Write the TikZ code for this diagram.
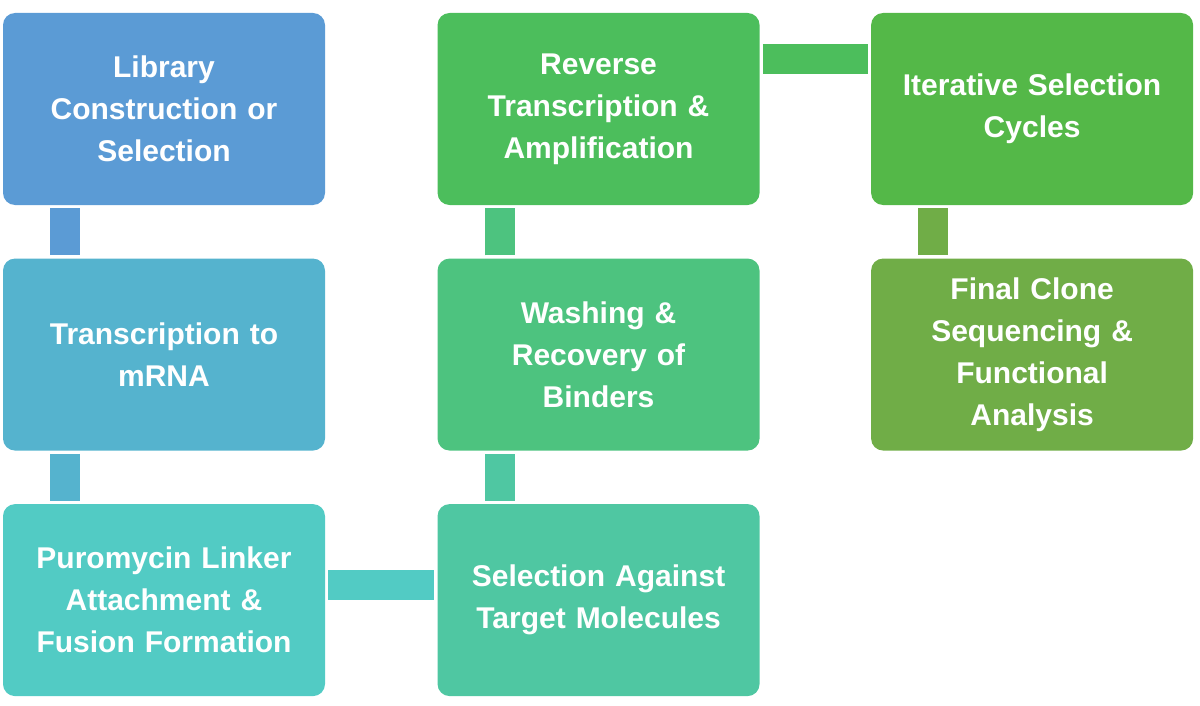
\documentclass[tikz,border=0pt]{standalone}
\usepackage{fontspec}
\setmainfont{Liberation Sans}
\usetikzlibrary{positioning}
\definecolor{cA}{RGB}{91,155,213}
\definecolor{cB}{RGB}{85,179,206}
\definecolor{cC}{RGB}{82,203,196}
\definecolor{cD}{RGB}{79,199,162}
\definecolor{cE}{RGB}{77,195,127}
\definecolor{cF}{RGB}{76,190,92}
\definecolor{cG}{RGB}{84,184,72}
\definecolor{cH}{RGB}{112,173,71}
\tikzset{every picture/.style={line width=0.55pt}}
\tikzset{stage/.style={rounded corners=12pt, minimum width=322pt, minimum height=192pt, text width=300pt, align=center, text=white, font=\fontsize{30}{42}\selectfont\bfseries, inner sep=0pt},
         link/.style={line width=30pt}}
\begin{document}
\begin{tikzpicture}[x=1pt,y=1pt,yscale=-1,xscale=1]
            \useasboundingbox (0,0) rectangle (1200,706);
            % Boxes
            \node [stage, fill=cA] (lib) at (164,109) {Library\\Construction or\\Selection};
            \node [stage, fill=cB, below=53pt of lib] (tra) {Transcription to\\mRNA};
            \node [stage, fill=cC, below=53pt of tra] (pur) {Puromycin Linker\\Attachment \&\\Fusion Formation};
            \node [stage, fill=cD, right=112pt of pur] (sel) {Selection Against\\Target Molecules};
            \node [stage, fill=cE, above=53pt of sel] (was) {Washing \&\\Recovery of\\Binders};
            \node [stage, fill=cF, above=53pt of was] (rev) {Reverse\\Transcription \&\\Amplification};
            \node [stage, fill=cG, right=111pt of rev] (ite) {Iterative Selection\\Cycles};
            \node [stage, fill=cH, below=53pt of ite] (fin) {Final Clone\\Sequencing \&\\Functional\\Analysis};
            % Connectors
            \draw [link, cA] ([xshift=-99pt,yshift=3pt]lib.south) -- ([xshift=-99pt,yshift=-3pt]tra.north);
            \draw [link, cB] ([xshift=-99pt,yshift=3pt]tra.south) -- ([xshift=-99pt,yshift=-3pt]pur.north);
            \draw [link, cC] ([xshift=3pt,yshift=-15pt]pur.east) -- ([xshift=-3pt,yshift=-15pt]sel.west);
            \draw [link, cD] ([xshift=-99pt,yshift=-3pt]sel.north) -- ([xshift=-99pt,yshift=3pt]was.south);
            \draw [link, cE] ([xshift=-99pt,yshift=-3pt]was.north) -- ([xshift=-99pt,yshift=3pt]rev.south);
            \draw [link, cF] ([xshift=3pt,yshift=-50pt]rev.east) -- ([xshift=-3pt,yshift=-50pt]ite.west);
            \draw [link, cH] ([xshift=-99pt,yshift=3pt]ite.south) -- ([xshift=-99pt,yshift=-3pt]fin.north);
\end{tikzpicture}
\end{document}
